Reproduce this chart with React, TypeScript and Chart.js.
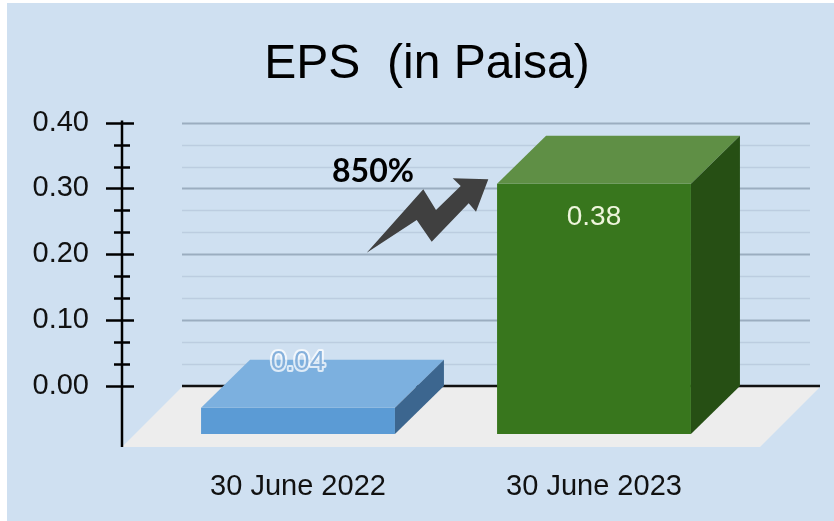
import React, { useEffect, useRef } from 'react';
import { Chart, registerables } from 'chart.js';

Chart.register(...registerables);

// ---- data ----
const categories = ['30 June 2022', '30 June 2023'];
const epsValues = [0.04, 0.38];
const valueLabels = ['0.04', '0.38'];
const yTicks = [0, 0.1, 0.2, 0.3, 0.4];
const growthLabel = '850%';
const titleText = 'EPS  (in Paisa)';

// ---- styles ----
const FONT = '"Liberation Sans", Arial, sans-serif';
const BG = '#cfe0f1';
const FRONT = ['#5b9bd5', '#38761d'];
const TOP = ['#7cb0df', '#5f8f45'];
const SIDE = ['#3c668f', '#264f14'];
const DX = 49;
const DY = 48;

const threeD = {
  id: 'threeD',
  beforeDraw(chart: any) {
    const { ctx, width, height } = chart;
    ctx.save();
    ctx.fillStyle = BG;
    ctx.fillRect(0, 0, width, height);
    ctx.restore();
  },
  beforeDatasetsDraw(chart: any) {
    const { ctx, chartArea: ca, scales } = chart;
    const y = scales.y;
    const y0 = y.getPixelForValue(0);
    const backL = ca.left + 32;
    const backR = ca.right + 78;
    const gridR = ca.right + 68;
    const frontL = ca.left - 28;
    const frontR = ca.right + 18;
    ctx.save();
    // gridlines (major + 2 minor per step)
    for (let i = 0; i < yTicks.length; i++) {
      for (let k = 0; k < 3; k++) {
        if (i === yTicks.length - 1 && k > 0) break;
        const v = yTicks[i] + (k * (yTicks[1] - yTicks[0])) / 3;
        if (v === 0) continue;
        const py = Math.round(y.getPixelForValue(v)) + 0.5;
        ctx.beginPath();
        ctx.strokeStyle = k === 0 ? '#9badc0' : '#bccde0';
        ctx.lineWidth = k === 0 ? 2 : 1.5;
        ctx.moveTo(backL, py);
        ctx.lineTo(gridR, py);
        ctx.stroke();
      }
    }
    // floor
    ctx.beginPath();
    ctx.fillStyle = '#ededed';
    ctx.moveTo(frontL, y0 + 61);
    ctx.lineTo(frontR, y0 + 61);
    ctx.lineTo(backR, y0 + 1);
    ctx.lineTo(backL, y0 + 1);
    ctx.closePath();
    ctx.fill();
    // zero line
    ctx.beginPath();
    ctx.strokeStyle = '#111';
    ctx.lineWidth = 2.5;
    ctx.moveTo(backL, y0);
    ctx.lineTo(backR, y0);
    ctx.stroke();
    ctx.restore();
    // front faces are drawn by chart.js, shifted forward
    ctx.save();
    ctx.translate(0, DY);
  },
  afterDatasetsDraw(chart: any) {
    const { ctx, chartArea: ca, scales } = chart;
    ctx.restore();
    const y = scales.y;
    const meta = chart.getDatasetMeta(0);
    ctx.save();
    meta.data.forEach((el: any, i: number) => {
      const l = el.x - el.width / 2;
      const r = el.x + el.width / 2;
      const top = el.y;
      const base = el.base;
      // top face
      ctx.beginPath();
      ctx.fillStyle = TOP[i];
      ctx.moveTo(l, top + DY);
      ctx.lineTo(r, top + DY);
      ctx.lineTo(r + DX, top);
      ctx.lineTo(l + DX, top);
      ctx.closePath();
      ctx.fill();
      // side face
      ctx.beginPath();
      ctx.fillStyle = SIDE[i];
      ctx.moveTo(r, top + DY);
      ctx.lineTo(r + DX, top);
      ctx.lineTo(r + DX, base);
      ctx.lineTo(r, base + DY);
      ctx.closePath();
      ctx.fill();
    });
    // value labels
    ctx.font = `28px ${FONT}`;
    ctx.textAlign = 'center';
    ctx.textBaseline = 'middle';
    meta.data.forEach((el: any, i: number) => {
      const frontH = el.base - el.y;
      if (frontH < 60) {
        const ly = el.y + 3;
        ctx.lineJoin = 'round';
        ctx.strokeStyle = 'rgba(255,255,255,0.75)';
        ctx.lineWidth = 4;
        ctx.strokeText(valueLabels[i], el.x, ly);
        ctx.fillStyle = '#86b1dc';
        ctx.fillText(valueLabels[i], el.x, ly);
      } else {
        ctx.fillStyle = '#eef5dc';
        ctx.fillText(valueLabels[i], el.x, el.y + DY + 34);
      }
    });
    // y axis line + ticks
    const ax = ca.left - 28;
    const y0 = y.getPixelForValue(0);
    ctx.strokeStyle = '#000';
    ctx.lineWidth = 2.5;
    ctx.beginPath();
    ctx.moveTo(ax, y.getPixelForValue(yTicks[yTicks.length - 1]) - 2);
    ctx.lineTo(ax, y0 + 61);
    ctx.stroke();
    for (let i = 0; i < yTicks.length; i++) {
      for (let k = 0; k < 3; k++) {
        if (i === yTicks.length - 1 && k > 0) break;
        const v = yTicks[i] + (k * (yTicks[1] - yTicks[0])) / 3;
        const py = Math.round(y.getPixelForValue(v)) + 0.5;
        ctx.beginPath();
        if (k === 0) {
          ctx.moveTo(ax - 16, py);
          ctx.lineTo(ax + 12, py);
        } else {
          ctx.moveTo(ax - 8, py);
          ctx.lineTo(ax + 8, py);
        }
        ctx.stroke();
      }
    }
    // growth annotation
    ctx.fillStyle = '#000';
    ctx.font = `bold 32px Lato, "Open Sans", sans-serif`;
    ctx.fillText(growthLabel, 366, 169);
    const arrow = [
      [359.7, 249.7], [416.3, 186.3], [429, 207], [453.7, 183], [445.7, 175.3],
      [481.3, 176.3], [469, 208.7], [461.7, 200.3], [424.7, 238.7], [409.7, 217],
    ];
    ctx.beginPath();
    ctx.fillStyle = '#404040';
    arrow.forEach(([px, py], j) => (j ? ctx.lineTo(px, py) : ctx.moveTo(px, py)));
    ctx.closePath();
    ctx.fill();
    ctx.restore();
  },
};

export default function App() {
  const ref = useRef<HTMLCanvasElement>(null);
  useEffect(() => {
    const chart = new Chart(ref.current as HTMLCanvasElement, {
      type: 'bar',
      data: {
        labels: categories,
        datasets: [
          {
            data: epsValues,
            backgroundColor: FRONT,
            borderWidth: 0,
            barPercentage: 0.655,
            categoryPercentage: 1,
            clip: false as any,
          },
        ],
      },
      options: {
        responsive: false,
        animation: false,
        devicePixelRatio: 1,
        events: [],
        layout: { padding: { left: 13, right: 0, top: 0, bottom: 0 } },
        plugins: {
          legend: { display: false },
          tooltip: { enabled: false },
          title: {
            display: true,
            text: titleText,
            color: '#000',
            font: { family: FONT, size: 48, weight: 'normal' },
            padding: { top: 33, bottom: 29 },
          },
        },
        scales: {
          x: {
            grid: { display: false },
            border: { display: false },
            ticks: { color: '#111', font: { family: FONT, size: 29 }, padding: 76, maxRotation: 0 },
            afterFit: (s: any) => {
              s.height = 135;
            },
          },
          y: {
            min: 0,
            max: 0.4,
            grid: { display: false },
            border: { display: false },
            afterBuildTicks: (s: any) => {
              s.ticks = yTicks.map((v) => ({ value: v }));
            },
            ticks: {
              color: '#111',
              font: { family: FONT, size: 29 },
              padding: 53,
              callback: (v: any) => Number(v).toFixed(2),
            },
            afterFit: (s: any) => {
              s.width = 130;
            },
          },
          yRight: {
            position: 'right',
            display: true,
            grid: { display: false },
            border: { display: false },
            ticks: { display: false },
            afterFit: (s: any) => {
              s.width = 92;
            },
          },
        },
      } as any,
      plugins: [threeD],
    });
    return () => chart.destroy();
  }, []);
  return (
    <div style={{ position: 'fixed', left: 7, top: 3, width: 827, height: 518 }}>
      <canvas ref={ref} width={827} height={518} style={{ display: 'block' }} />
    </div>
  );
}
